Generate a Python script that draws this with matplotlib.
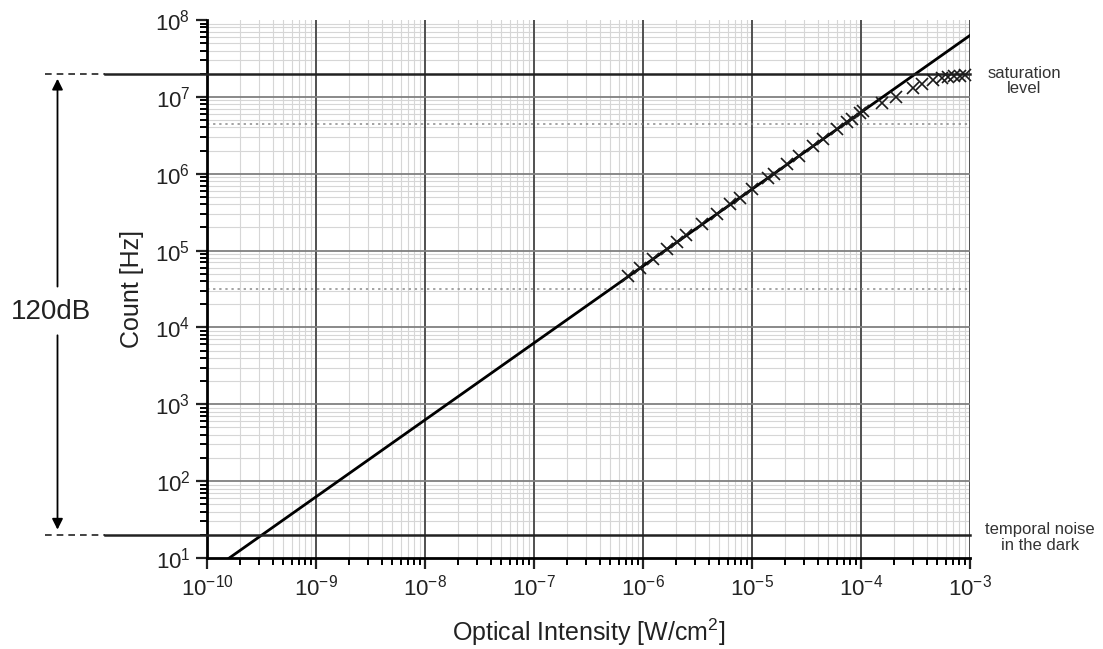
import numpy as np
import matplotlib
matplotlib.use("Agg")
import matplotlib.pyplot as plt
import matplotlib.ticker as mticker
from matplotlib.transforms import blended_transform_factory

plt.rcParams["font.family"] = ["Liberation Sans", "DejaVu Sans"]
plt.rcParams["mathtext.default"] = "regular"
plt.rcParams["axes.unicode_minus"] = False

# ── data ─────────────────────────────────────────────────────────────────────
intensity = [7.3e-7, 9.3e-7, 1.23e-6, 1.65e-6, 2.04e-6, 2.5e-6, 3.5e-6, 4.8e-6,
             6.3e-6, 7.8e-6, 1.0e-5, 1.4e-5, 1.6e-5, 2.1e-5, 2.7e-5, 3.6e-5,
             4.5e-5, 6.0e-5, 7.4e-5, 8.3e-5, 9.8e-5, 1.05e-4,
             1.55e-4, 2.1e-4, 3.0e-4, 3.6e-4, 4.6e-4, 5.5e-4, 6.3e-4, 7.2e-4,
             8.1e-4, 9.0e-4]
count = [4.6e4, 5.9e4, 7.7e4, 1.04e5, 1.29e5, 1.58e5, 2.2e5, 3.0e5,
         4.0e5, 4.9e5, 6.3e5, 8.8e5, 1.0e6, 1.32e6, 1.7e6, 2.27e6,
         2.8e6, 3.8e6, 4.7e6, 5.2e6, 6.2e6, 6.6e6,
         8.3e6, 1.0e7, 1.3e7, 1.45e7, 1.66e7, 1.78e7, 1.82e7, 1.84e7,
         1.88e7, 1.9e7]

fit_intensity = [1.6e-10, 1e-3]
fit_count = [10, 6.3e7]

saturation = 2e7
dark_noise = 2e1
dotted_levels = [4.5e6, 3.2e4]

x_decades = [1e-10, 1e-9, 1e-8, 1e-7, 1e-6, 1e-5, 1e-4, 1e-3]
y_decades = [1e1, 1e2, 1e3, 1e4, 1e5, 1e6, 1e7, 1e8]

# ── plot ─────────────────────────────────────────────────────────────────────
fig = plt.figure(figsize=(11.03, 6.49), dpi=100)
ax = fig.add_axes([0.1877, 0.1402, 0.6917, 0.829])
ax.set_xscale("log")
ax.set_yscale("log")
ax.set_xlim(x_decades[0], x_decades[-1])
ax.set_ylim(y_decades[0], y_decades[-1])
ax.set_xticks(x_decades)
ax.set_yticks(y_decades)

# grid: light minor lines, solid major lines drawn above them
ax.xaxis.set_minor_locator(mticker.LogLocator(base=10, subs=np.arange(2, 10)))
ax.yaxis.set_minor_locator(mticker.LogLocator(base=10, subs=np.arange(2, 10)))
ax.xaxis.set_minor_formatter(mticker.NullFormatter())
ax.yaxis.set_minor_formatter(mticker.NullFormatter())
ax.grid(which="minor", color="#d6d6d6", linewidth=0.8, zorder=0)
ax.set_axisbelow(True)
for xv in x_decades[1:]:
    ax.axvline(xv, color="#505050", linewidth=1.4, zorder=1)
for yv in y_decades[1:-1]:
    ax.axhline(yv, color="#808080", linewidth=1.3, zorder=1)
for lvl in dotted_levels:
    ax.axhline(lvl, color="#8a8a8a", linewidth=1.1, linestyle=(0, (1.5, 2.5)), zorder=1)

for side in ["top", "right"]:
    ax.spines[side].set_visible(False)
for side in ["left", "bottom"]:
    ax.spines[side].set_linewidth(2)
ax.tick_params(which="major", direction="out", length=8, width=1.6,
               labelsize=16, colors="#222222", pad=4)
ax.tick_params(which="minor", direction="out", length=5, width=1.4)

# fitted line and measurements
ax.plot(fit_intensity, fit_count, color="black", linewidth=2, zorder=3)
ax.plot(intensity, count, linestyle="none", marker="x", color="#1a1a1a",
        markersize=8, markeredgewidth=1.2, zorder=4, clip_on=False)

# saturation and noise levels, extended to the left
trans = blended_transform_factory(ax.transAxes, ax.transData)
for lvl in [saturation, dark_noise]:
    ax.plot([-0.134, 1.0], [lvl, lvl], transform=trans, color="#222222",
            linewidth=1.8, clip_on=False, zorder=3)
    ax.plot([-0.212, -0.134], [lvl, lvl], transform=trans, color="#222222",
            linewidth=1.2, linestyle=(0, (4, 3)), clip_on=False)

# 120dB span arrow
arrow = dict(arrowstyle="-|>", color="black", lw=1.3, mutation_scale=16,
             shrinkA=0, shrinkB=0)
ax.annotate("", xy=(-0.196, saturation * 0.86), xytext=(-0.196, 3.4e4),
            xycoords=trans, textcoords=trans, arrowprops=arrow)
ax.annotate("", xy=(-0.196, dark_noise * 1.17), xytext=(-0.196, 7.9e3),
            xycoords=trans, textcoords=trans, arrowprops=arrow)
ax.text(-0.204, 1.6e4, "120dB", transform=trans, fontsize=20,
        ha="center", va="center", color="#222222")

ax.text(1.071, saturation * 0.8, "saturation\nlevel", transform=trans,
        fontsize=12, ha="center", va="center", color="#333333", linespacing=1.05)
ax.text(1.092, dark_noise * 0.92, "temporal noise\nin the dark", transform=trans,
        fontsize=12, ha="center", va="center", color="#333333", linespacing=1.05)

ax.set_xlabel("Optical Intensity [W/cm$^2$]", fontsize=18, va="center", color="#222222")
ax.xaxis.set_label_coords(0.5, -0.139)
ax.set_ylabel("Count [Hz]", fontsize=18, va="center", color="#222222")
ax.yaxis.set_label_coords(-0.098, 0.5)

fig.savefig("out.png", dpi=100)
